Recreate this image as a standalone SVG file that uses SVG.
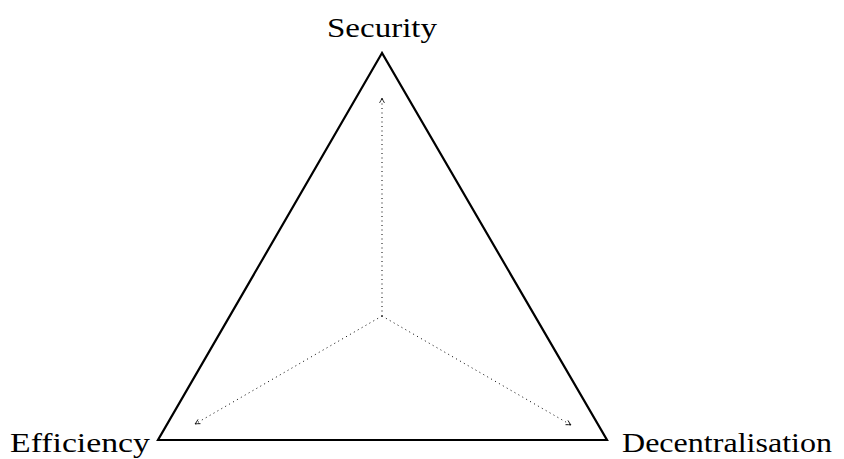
<svg xmlns="http://www.w3.org/2000/svg" width="844" height="459" viewBox="0 0 844 459">
<style>
.lbl{font-family:"Liberation Serif","DejaVu Serif",serif;font-size:28px;fill:#000}
.tri{fill:none;stroke:#000;stroke-width:2.2;stroke-linejoin:miter}
.dot{fill:none;stroke:#000;stroke-width:1;stroke-dasharray:1 3.5}
</style>
<defs>
<marker id="ah" viewBox="0 0 10 10" refX="9" refY="5" markerWidth="7" markerHeight="7" orient="auto" markerUnits="userSpaceOnUse">
<path d="M2,1.5 Q6,4 9,5 Q6,6 2,8.5" fill="none" stroke="#000" stroke-width="1.2"/>
</marker>
</defs>
<rect width="844" height="459" fill="#fff"/>
<g id="triangle">
<polygon class="tri" points="382,53 158,440 607,440"/>
</g>
<g id="connectors">
<line class="dot" x1="382" y1="316" x2="382" y2="98" marker-end="url(#ah)"/>
<line class="dot" x1="382" y1="316" x2="195" y2="424" marker-end="url(#ah)"/>
<line class="dot" x1="382" y1="316" x2="571" y2="425" marker-end="url(#ah)"/>
</g>
<g id="security"><text class="lbl" x="327" y="37" textLength="110" lengthAdjust="spacingAndGlyphs">Security</text></g>
<g id="efficiency"><text class="lbl" x="10" y="452" textLength="140" lengthAdjust="spacingAndGlyphs">Efficiency</text></g>
<g id="decentralisation"><text class="lbl" x="622" y="452" textLength="210" lengthAdjust="spacingAndGlyphs">Decentralisation</text></g>
</svg>
